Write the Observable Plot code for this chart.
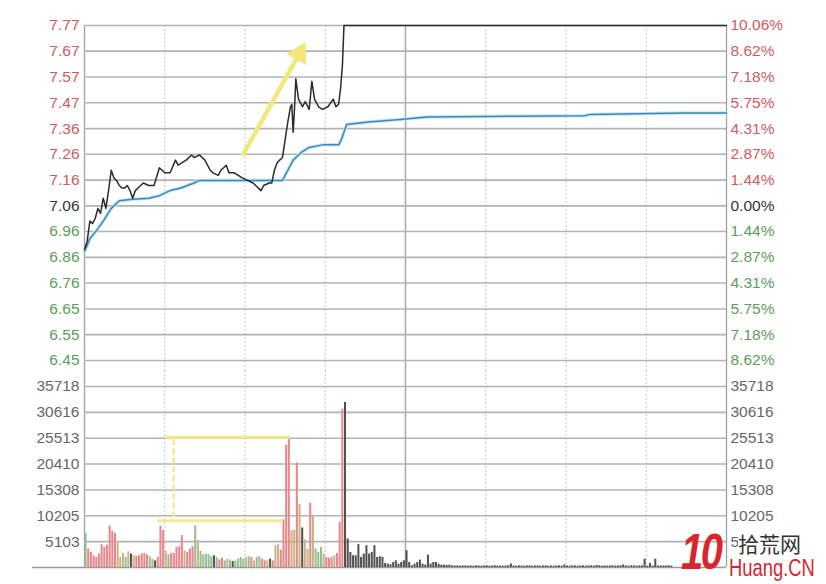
<!DOCTYPE html>
<html><head><meta charset="utf-8">
<script src="https://cdn.jsdelivr.net/npm/d3@7"></script>
<script src="https://cdn.jsdelivr.net/npm/@observablehq/plot@0.6"></script>
<style>
body{margin:0;background:#fff;font-family:"Liberation Sans",Arial,sans-serif;}
#wrap{position:relative;width:826px;height:584px;overflow:hidden;background:#fff;}
#p1,#p2{position:absolute;left:0;}
#p1{top:0;} #p2{top:370px;}
.wm{position:absolute;white-space:nowrap;}
</style></head><body>
<div id="wrap"><div id="p1"></div><div id="p2"></div>
<div class="wm" style="left:681px;top:526px;font:italic 900 50px 'Liberation Sans',Arial;color:#d8262e;transform:scaleX(0.8);transform-origin:left top;letter-spacing:-3px;line-height:52px;">10</div>
<div class="wm" style="left:738px;top:533px;font:400 21px 'Noto Sans CJK SC';color:#333;background:#fff;line-height:20px;">拾荒网</div>
<div class="wm" style="left:729px;top:557px;font:400 23px 'Liberation Sans',Arial;color:#d8262e;transform:scaleX(0.8);transform-origin:left top;line-height:22px;">Huang.CN</div>
</div>
<script>
// price line (minute, price)
const priceMinutes = [0,1,2,3,4,5,6,7,8,9,10,11,12,13,14,15,16,17,18,19,20,22,24,26,28,29,30,32,34,35,38,40,41,43,45,47,48,50,51,53,54,56,57.5,59,61,63,64,66,67,69,70,71,72,74,75,76,77,77.5,78,78.5,79,80,81.5,82.5,84,85,86,87.5,89,91,93,94,95,95.7,96.4,97,240];
const prices = [6.89,6.92,7.00,6.99,7.01,7.05,7.03,7.09,7.05,7.12,7.20,7.17,7.16,7.14,7.13,7.13,7.14,7.12,7.09,7.12,7.13,7.15,7.14,7.14,7.21,7.20,7.19,7.19,7.24,7.22,7.24,7.26,7.25,7.26,7.24,7.20,7.19,7.18,7.20,7.22,7.19,7.19,7.18,7.17,7.16,7.15,7.14,7.12,7.14,7.15,7.15,7.20,7.23,7.25,7.32,7.39,7.45,7.46,7.35,7.44,7.56,7.48,7.45,7.47,7.44,7.55,7.48,7.45,7.44,7.45,7.48,7.45,7.46,7.52,7.61,7.77,7.77];
// average price line
const avgMinutes = [0,2,5,7,10,12,13,17,24,28,32,36,41,43,74,76,78,81,84,89,95,96,98,106,118,128,187,189,224,240];
const avgPrices = [6.88,6.93,6.97,7.00,7.05,7.07,7.08,7.085,7.09,7.10,7.12,7.13,7.15,7.16,7.16,7.20,7.24,7.27,7.29,7.30,7.30,7.32,7.38,7.39,7.40,7.41,7.415,7.42,7.425,7.425];
// per-minute volume
const volumes = [
6750,3640,2980,2320,1990,2650,4500,3970,4370,8200,
7150,6750,4770,1990,2780,1990,3100,2650,2320,2180,
2320,2650,2780,2500,2120,1650,1320,1990,8200,7280,
3180,2500,2780,2780,3970,4100,6290,3310,2980,3640,
4100,8200,5300,3180,2500,2650,2500,2120,2320,1990,
1520,1850,1320,1650,1460,1190,1320,1650,1990,1650,
1990,2120,1990,1320,1990,2120,1650,1320,1320,1650,
1320,4300,4500,3440,9400,24160,25290,7280,7410,20650,
12450,7810,5430,3640,12700,10060,3640,2980,3970,2650,
1990,1850,1990,2320,2780,8940,31240,32570,5630,2980,
2320,2320,4500,1990,2650,4300,2650,2980,4300,1990,
2120,1990,800,660,530,990,1320,660,990,1320,
3310,990,330,660,990,1460,660,460,2450,660,
990,990,660,460,460,400,460,330,300,330,
260,300,330,260,300,260,330,300,260,300,
330,260,300,330,260,300,260,300,330,700,
300,260,330,300,260,300,330,260,300,330,
260,300,330,260,300,260,300,330,260,500,
300,260,330,300,260,300,330,260,300,330,
260,400,330,260,300,260,300,330,260,300,
330,500,300,260,330,300,260,300,330,1650,
260,800,300,1650,300,330,260,300,330,260
];
// minute direction: u=up(red), d=down(green), t=mixed, k=after limit-up
const dirCodes = ("duuuuuuuuu"+"uutttdtktu"+"uuuuddkuuu"+"tduuuuutuu"+"udtdddddkd"+
  "uudtdkdddd"+"tdutdduutk"+"uttuuuuttu"+"tkttutdddt"+"uuutuuuk").padEnd(240,"k");

const priceTicks = [7.77,7.669,7.567,7.466,7.364,7.263,7.161,7.06,6.959,6.857,6.756,6.654,6.553,6.451];
const priceLabels = ["7.77","7.67","7.57","7.47","7.36","7.26","7.16","7.06","6.96","6.86","6.76","6.65","6.55","6.45"];
const pctLabels = ["10.06%","8.62%","7.18%","5.75%","4.31%","2.87%","1.44%","0.00%","1.44%","2.87%","4.31%","5.75%","7.18%","8.62%"];
const preClose = 7.06;
const volTicks = [35718,30616,25513,20410,15308,10205,5103];
const halfHours = [30,60,90,150,180,210];
const midday = [120];
const sessionEdges = [0,240];
// annotations (data units)
const arrowShaft = [{x1:59.1,y1:7.258,x2:80.3,y2:7.659}];
const arrowHead = [{m:80.3,p:7.659}];
const boxLines = [{v:25700,x1:30.3,x2:77},{v:9230,x1:27.3,x2:74.4}];
const boxDash = [{m:33.3,y1:9800,y2:25400}];

const W = 826, ML = 84, MR = 100, FS = 15.5;
const ticks = priceTicks.map((v,i)=>({v, label:priceLabels[i], pct:pctLabels[i]}));
const priceData = priceMinutes.map((m,i)=>({m, p:prices[i]}));
const avgData = avgMinutes.map((m,i)=>({m, p:avgPrices[i]}));
const volData = volumes.map((v,i)=>({m:i, v, dir:dirCodes[i]}));
const RED="#d25a5e", GRN="#5c9c5c", DARK="#333", GRAY="#666", YEL="#f2e77a";
const txt = {fontSize:FS, fontFamily:"Liberation Sans, Arial", letterSpacing:"0.4px"};

function leftRight(data, fill){
  return [
    Plot.text(data, {y:"v", text:"label", frameAnchor:"left", textAnchor:"end", dx:-5, fill, ...txt}),
    Plot.text(data, {y:"v", text:"pct", frameAnchor:"right", textAnchor:"start", dx:4, fill, ...txt})
  ];
}

const p1 = Plot.plot({
  width:W, height:370, marginLeft:ML, marginRight:MR, marginTop:25, marginBottom:10,
  x:{domain:[0,240], axis:null}, y:{domain:[6.451,7.77], axis:null},
  style:{background:"transparent", overflow:"visible"},
  marks:[
    Plot.ruleX(halfHours, {stroke:"#c4c4c4", strokeDasharray:"2,2", insetBottom:-10}),
    Plot.ruleX(midday, {stroke:"#a8a8a8", strokeWidth:1.5, insetBottom:-10}),
    Plot.ruleX(sessionEdges, {stroke:"#a0a0a0", strokeWidth:1.3, insetBottom:-10}),
    Plot.ruleY(priceTicks, {stroke:"#b2b2b2", strokeWidth:1.6}),
    ...leftRight(ticks.filter(d=>d.v>preClose), RED),
    ...leftRight(ticks.filter(d=>d.v===preClose), DARK),
    ...leftRight(ticks.filter(d=>d.v<preClose), GRN),
    Plot.line(avgData, {x:"m", y:"p", stroke:"#c4e6f6", strokeWidth:3.5}),
    Plot.line(avgData, {x:"m", y:"p", stroke:"#3d89b5", strokeWidth:1.5}),
    Plot.line(priceData, {x:"m", y:"p", stroke:"#2a2a2a", strokeWidth:1.5}),
    Plot.link(arrowShaft, {x1:"x1", y1:"y1", x2:"x2", y2:"y2", stroke:YEL, strokeWidth:4.5}),
    Plot.dot(arrowHead, {x:"m", y:"p", symbol:"triangle", r:8.5, rotate:28.7, fill:YEL, stroke:"none"})
  ]
});
document.getElementById("p1").append(p1);

const vticks = volTicks.map(v=>({v, label:String(v), pct:String(v)}));
const p2 = Plot.plot({
  width:W, height:214, marginLeft:ML, marginRight:MR, marginTop:16, marginBottom:17,
  x:{domain:[0,240], axis:null}, y:{domain:[0,35718], axis:null},
  color:{domain:["u","d","t","k"], range:["#e8868a","#93bd92","#c8b287","#505050"]},
  style:{background:"transparent", overflow:"visible"},
  marks:[
    Plot.ruleX(halfHours, {stroke:"#c4c4c4", strokeDasharray:"2,2", insetTop:-16}),
    Plot.ruleX(midday, {stroke:"#a8a8a8", strokeWidth:1.5, insetTop:-16}),
    Plot.ruleX(sessionEdges, {stroke:"#a0a0a0", strokeWidth:1.3, insetTop:-16}),
    Plot.ruleY(volTicks, {stroke:"#b2b2b2", strokeWidth:1.6}),
    Plot.ruleY([0], {stroke:"#9a9a9a", strokeWidth:1.5, insetLeft:-52}),
    ...leftRight(vticks, GRAY),
    Plot.rectY(volData, {x1:d=>d.m+0.2, x2:d=>d.m+0.95, y:"v", fill:"dir"}),
    Plot.ruleY(boxLines, {y:"v", x1:"x1", x2:"x2", stroke:"#f2ea8a", strokeWidth:3}),
    Plot.ruleX(boxDash, {x:"m", y1:"y1", y2:"y2", stroke:"#f2ea8a", strokeWidth:2.5, strokeDasharray:"6,3"})
  ]
});
document.getElementById("p2").append(p2);
</script>
</body></html>
